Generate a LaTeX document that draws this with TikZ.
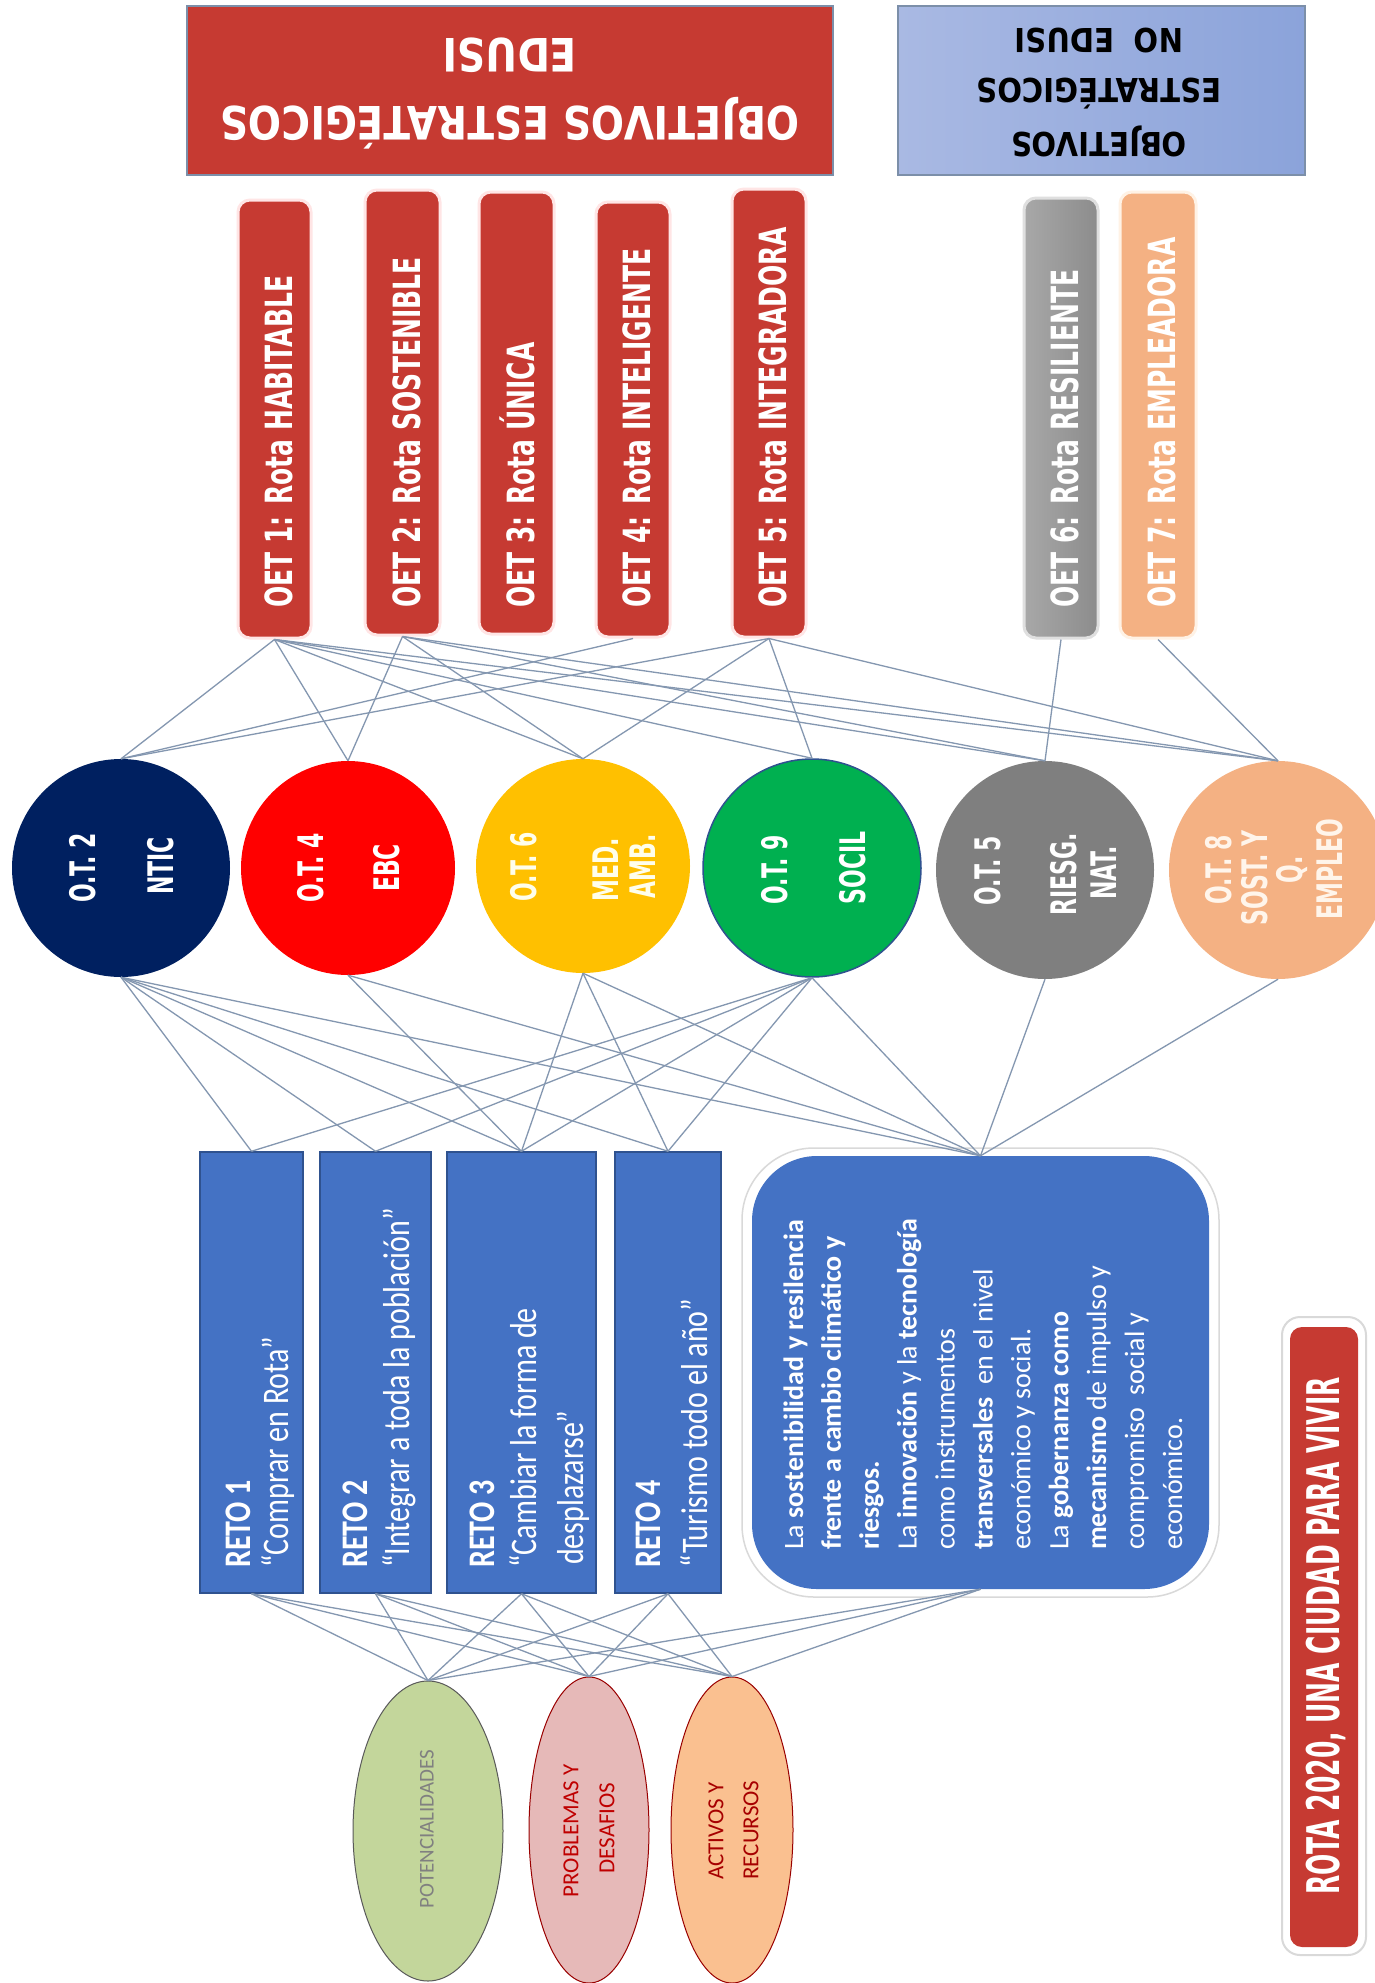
\documentclass[tikz,border=0pt]{standalone}
\usepackage{fontspec}
\usepackage{graphicx}
\usetikzlibrary{shapes.geometric}
\newfontfamily\dvs{DejaVu Sans}
\newfontfamily\carl{Carlito}
\newcommand{\vst}[2]{\scalebox{1}[#1]{#2}}
\definecolor{oetred}{HTML}{C63A32}
\definecolor{hdrborder}{HTML}{7C8FA9}
\definecolor{blueL}{HTML}{A9B9E3}
\definecolor{blueR}{HTML}{8BA3DA}
\definecolor{nticc}{HTML}{002060}
\definecolor{ebcc}{HTML}{FF0000}
\definecolor{medc}{HTML}{FFC000}
\definecolor{socilc}{HTML}{00B050}
\definecolor{riesgc}{HTML}{7F7F7F}
\definecolor{empleoc}{HTML}{F4B183}
\definecolor{retoblue}{HTML}{4472C4}
\definecolor{retoborder}{HTML}{2F528F}
\definecolor{linec}{HTML}{8497B0}
\definecolor{potgreen}{HTML}{C3D69B}
\definecolor{probpink}{HTML}{E6B9B8}
\definecolor{actpeach}{HTML}{FAC090}
\definecolor{grayL}{HTML}{A8A8A8}
\definecolor{grayR}{HTML}{8C8C8C}
\begin{document}
\begin{tikzpicture}[x=1pt,y=-1pt,
  conn/.style={draw=linec, line width=1.3pt},
  oetbox/.style={draw=#1, line width=3pt, rounded corners=12pt, inner sep=0},
  oettxt/.style={rotate=90, anchor=base west, inner sep=0, text=white, font=\dvs\bfseries\fontsize{25}{30}\selectfont},
  otcirc/.style={circle, inner sep=0, minimum size=#1},
  ottxt/.style={rotate=90, anchor=center, inner sep=0, text=white, font=\dvs\bfseries\fontsize{22}{26}\selectfont},
  retobox/.style={fill=retoblue, draw=retoborder, line width=1.5pt, inner sep=0, minimum height=441pt},
  retotxt/.style={rotate=90, anchor=base west, inner sep=0, text=white, font=\carl\fontsize{30}{36}\selectfont},
  bigtxt/.style={rotate=90, anchor=base west, inner sep=0, text=white, font=\carl\fontsize{28}{33}\selectfont},
  elltxt/.style={rotate=90, anchor=center, inner sep=0, font=\carl\fontsize{23}{27}\selectfont},
  hdrtxt/.style={rotate=180, anchor=base, inner sep=0, font=\dvs\bfseries\fontsize{#1}{#1}\selectfont}
]
\useasboundingbox (0,0) rectangle (1374,1983);
\fill[white] (0,0) rectangle (1374,1983);

% header boxes
\node[draw=hdrborder, line width=1.5pt, fill=oetred, minimum width=646pt, minimum height=169pt, inner sep=0] (hdr) at (510,90.5) {};
\node[hdrtxt=46, text=white] (hdr1) at (510,107) {\scalebox{0.85}[1]{OBJETIVOS ESTRATÉGICOS}};
\node[hdrtxt=46, text=white] (hdr2) at (510,39) {\scalebox{0.85}[1]{EDUSI}};

\node[draw=hdrborder, line width=1.2pt, left color=blueL, right color=blueR, minimum width=407pt, minimum height=169pt, inner sep=0] (nohdr) at (1101.5,90.5) {};
\node[hdrtxt=33, text=black] (nohdr1) at (1099,133) {\scalebox{0.88}[1]{OBJETIVOS}};
\node[hdrtxt=33, text=black] (nohdr2) at (1099,79) {\scalebox{0.88}[1]{ESTRATÉGICOS}};
\node[hdrtxt=33, text=black] (nohdr3) at (1099,29) {\scalebox{0.88}[1]{NO\ \ EDUSI}};

% OET boxes
\node[oetbox=red!10, fill=oetred, minimum width=73pt, minimum height=438pt] (oet1) at (274.5,419) {};
\node[oetbox=red!10, fill=oetred, minimum width=75pt, minimum height=445pt] (oet2) at (402.5,412.5) {};
\node[oetbox=red!10, fill=oetred, minimum width=75pt, minimum height=442pt] (oet3) at (516.5,413) {};
\node[oetbox=red!10, fill=oetred, minimum width=74pt, minimum height=435pt] (oet4) at (633,419.5) {};
\node[oetbox=red!10, fill=oetred, minimum width=74pt, minimum height=448pt] (oet5) at (769,413) {};
\node[oetbox=gray!25, left color=grayL, right color=grayR, minimum width=74pt, minimum height=440pt] (oet6) at (1061,418) {};
\node[oetbox=orange!10, fill=empleoc, minimum width=76pt, minimum height=446pt] (oet7) at (1158,415) {};

\node[oettxt] (oet1t) at (292,608) {\vst{1.5}{OET 1: Rota HABITABLE}};
\node[oettxt] (oet2t) at (420,608) {\vst{1.5}{OET 2: Rota SOSTENIBLE}};
\node[oettxt] (oet3t) at (534,608) {\vst{1.5}{OET 3: Rota ÚNICA}};
\node[oettxt] (oet4t) at (650.5,608) {\vst{1.5}{OET 4: Rota INTELIGENTE}};
\node[oettxt] (oet5t) at (786.5,608) {\vst{1.5}{OET 5: Rota INTEGRADORA}};
\node[oettxt] (oet6t) at (1078.5,608) {\vst{1.5}{OET 6: Rota RESILIENTE}};
\node[oettxt] (oet7t) at (1175.5,608) {\vst{1.5}{OET 7: Rota EMPLEADORA}};

% O.T. circles
\node[otcirc=218pt, fill=nticc] (ntic) at (121,868) {};
\node[otcirc=214pt, fill=ebcc] (ebc) at (348,868) {};
\node[otcirc=214pt, fill=medc] (med) at (583,866) {};
\node[otcirc=218pt, fill=socilc, draw=retoborder, line width=1.5pt] (socil) at (812,868) {};
\node[otcirc=218pt, fill=riesgc] (riesg) at (1045,870) {};
\node[otcirc=218pt, fill=empleoc] (empleo) at (1278,870) {};

\node[ottxt] (ntic1) at (83,868) {\vst{1.6}{O.T. 2}};
\node[ottxt] (ntic2) at (161,866) {\vst{1.6}{NTIC}};
\node[ottxt] (ebc1) at (311,868) {\vst{1.6}{O.T. 4}};
\node[ottxt] (ebc2) at (387,868) {\vst{1.6}{EBC}};
\node[ottxt, text=yellow!8] (med1) at (524,867) {\vst{1.6}{O.T. 6}};
\node[ottxt, text=yellow!8] (med2) at (606,870) {\vst{1.6}{MED.}};
\node[ottxt, text=yellow!8] (med3) at (643,866) {\vst{1.6}{AMB.}};
\node[ottxt] (socil1) at (775,870) {\vst{1.6}{O.T. 9}};
\node[ottxt] (socil2) at (853,868) {\vst{1.6}{SOCIL}};
\node[ottxt] (riesg1) at (988,871) {\vst{1.6}{O.T. 5}};
\node[ottxt] (riesg2) at (1064,874) {\vst{1.6}{RIESG.}};
\node[ottxt] (riesg3) at (1104,873) {\vst{1.6}{NAT.}};
\node[ottxt, text=orange!8] (empleo1) at (1219,870) {\vst{1.6}{O.T. 8}};
\node[ottxt, text=orange!8] (empleo2) at (1255,878) {\vst{1.6}{SOST. Y}};
\node[ottxt, text=orange!8] (empleo3) at (1292,870) {\vst{1.6}{Q.}};
\node[ottxt, text=orange!8] (empleo4) at (1330,869) {\vst{1.6}{EMPLEO}};

% RETO boxes
\node[retobox, minimum width=103pt] (reto1) at (251.5,1372.5) {};
\node[retobox, minimum width=111pt] (reto2) at (375.5,1372.5) {};
\node[retobox, minimum width=149pt] (reto3) at (521.5,1372.5) {};
\node[retobox, minimum width=106pt] (reto4) at (668,1372.5) {};

\node[retotxt] (reto1a) at (250,1568) {\vst{1.25}{\bfseries RETO 1}};
\node[retotxt] (reto1b) at (288,1568) {\vst{1.25}{“Comprar en Rota”}};
\node[retotxt] (reto2a) at (367,1568) {\vst{1.25}{\bfseries RETO 2}};
\node[retotxt] (reto2b) at (409,1568) {\vst{1.25}{“Integrar a toda la población”}};
\node[retotxt] (reto3a) at (494,1568) {\vst{1.25}{\bfseries RETO 3}};
\node[retotxt] (reto3b) at (536,1568) {\vst{1.25}{“Cambiar la forma de}};
\node[retotxt] (reto3c) at (583,1565) {\vst{1.25}{desplazarse”}};
\node[retotxt] (reto4a) at (660,1568) {\vst{1.25}{\bfseries RETO 4}};
\node[retotxt] (reto4b) at (707,1568) {\vst{1.25}{“Turismo todo el año”}};

% big rounded box
\node[draw=gray!30, line width=1.5pt, fill=white, rounded corners=72pt, minimum width=477pt, minimum height=449pt, inner sep=0] (bighalo) at (980.5,1372.5) {};
\node[fill=retoblue, rounded corners=65pt, minimum width=457pt, minimum height=433pt, inner sep=0] (big) at (980.5,1372.5) {};
\node[bigtxt] (bl1) at (803.0,1550) {La {\bfseries sostenibilidad y resilencia}};
\node[bigtxt] (bl2) at (840.9,1550) {\bfseries frente a cambio climático y};
\node[bigtxt] (bl3) at (878.8,1550) {\bfseries riesgos.};
\node[bigtxt] (bl4) at (916.7,1550) {La {\bfseries innovación} y la {\bfseries tecnología}};
\node[bigtxt] (bl5) at (954.6,1550) {como instrumentos};
\node[bigtxt] (bl6) at (992.5,1550) {{\bfseries transversales}\ \ en el nivel};
\node[bigtxt] (bl7) at (1030.4,1550) {económico y social.};
\node[bigtxt] (bl8) at (1068.3,1550) {La {\bfseries gobernanza como}};
\node[bigtxt] (bl9) at (1106.2,1550) {{\bfseries mecanismo} de impulso y};
\node[bigtxt] (bl10) at (1144.1,1550) {compromiso\ \ social y};
\node[bigtxt] (bl11) at (1182.0,1550) {económico.};

% bottom ellipses
\node[ellipse, fill=potgreen, draw=gray!70!black, line width=1pt, minimum width=150pt, minimum height=300pt, inner sep=0] (pot) at (428,1831) {};
\node[ellipse, fill=probpink, draw=red!60!black, line width=1pt, minimum width=120pt, minimum height=306pt, inner sep=0] (prob) at (589,1830) {};
\node[ellipse, fill=actpeach, draw=red!60!black, line width=1pt, minimum width=122pt, minimum height=306pt, inner sep=0] (act) at (732,1830) {};
\node[elltxt, text=gray, font=\carl\fontsize{21}{25}\selectfont] (pott) at (427,1829) {POTENCIALIDADES};
\node[elltxt, text=red!75!black] (prob1) at (571,1831) {PROBLEMAS Y};
\node[elltxt, text=red!75!black] (prob2) at (607,1828) {DESAFIOS};
\node[elltxt, text=red!65!black] (act1) at (716,1831) {ACTIVOS Y};
\node[elltxt, text=red!65!black] (act2) at (751,1830) {RECURSOS};

% ROTA box
\node[draw=gray!30, line width=2pt, fill=white, rounded corners=18pt, minimum width=84pt, minimum height=638pt, inner sep=0] (rotahalo) at (1324,1636) {};
\node[fill=oetred, rounded corners=12pt, minimum width=68pt, minimum height=620pt, inner sep=0] (rota) at (1324,1637) {};
\node[rotate=90, anchor=center, inner sep=0, text=white, font=\dvs\bfseries\fontsize{25}{30}\selectfont] (rotat) at (1326,1636) {\vst{1.8}{ROTA 2020, UNA CIUDAD PARA VIVIR}};

% connectors OET -> O.T.
\draw[conn] (oet1.south) -- (ntic.north);
\draw[conn] (oet1.south) -- (ebc.north);
\draw[conn] (oet1.south) -- (med.north);
\draw[conn] (oet1.south) -- (socil.north);
\draw[conn] (oet1.south) -- (riesg.north);
\draw[conn] (oet1.south) -- (empleo.north);
\draw[conn] (oet2.south) -- (ebc.north);
\draw[conn] (oet2.south) -- (med.north);
\draw[conn] (oet2.south) -- (riesg.north);
\draw[conn] (oet2.south) -- (empleo.north);
\draw[conn] (oet4.south) -- (ntic.north);
\draw[conn] (oet5.south) -- (ntic.north);
\draw[conn] (oet5.south) -- (med.north);
\draw[conn] (oet5.south) -- (socil.north);
\draw[conn] (oet5.south) -- (empleo.north);
\draw[conn] (oet6.south) -- (riesg.north);
\draw[conn] (oet7.south) -- (empleo.north);

% connectors O.T. -> RETOS
\draw[conn] (ntic.south) -- (reto1.north);
\draw[conn] (ntic.south) -- (reto2.north);
\draw[conn] (ntic.south) -- (reto3.north);
\draw[conn] (ntic.south) -- (reto4.north);
\draw[conn] (ntic.south) -- (big.north);
\draw[conn] (ebc.south) -- (reto3.north);
\draw[conn] (ebc.south) -- (big.north);
\draw[conn] (med.south) -- (reto3.north);
\draw[conn] (med.south) -- (reto4.north);
\draw[conn] (med.south) -- (big.north);
\draw[conn] (socil.south) -- (reto1.north);
\draw[conn] (socil.south) -- (reto2.north);
\draw[conn] (socil.south) -- (reto3.north);
\draw[conn] (socil.south) -- (reto4.north);
\draw[conn] (socil.south) -- (big.north);
\draw[conn] (riesg.south) -- (big.north);
\draw[conn] (empleo.south) -- (big.north);

% connectors RETOS -> bottom ellipses
\foreach \r in {reto1,reto2,reto3,reto4,big}{
  \foreach \e in {pot,prob,act}{
    \draw[conn] (\r.south) -- (\e.north);
  }
}
\end{tikzpicture}
\end{document}
